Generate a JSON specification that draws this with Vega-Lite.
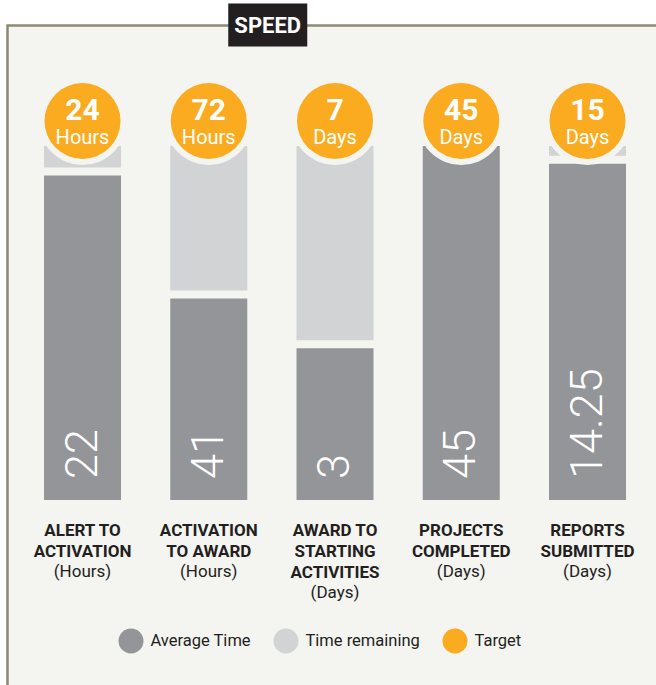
{
  "$schema": "https://vega.github.io/schema/vega-lite/v6.json",
  "width": 650,
  "height": 660,
  "autosize": {"type": "none"},
  "padding": {"left": 6, "top": 25, "right": 0, "bottom": 0},
  "background": "#ffffff",
  "data": {
    "values": [
      {"key": "alert", "name": ["ALERT TO", "ACTIVATION"], "unit": "Hours", "average": 22, "target": 24},
      {"key": "activation", "name": ["ACTIVATION", "TO AWARD"], "unit": "Hours", "average": 41, "target": 72},
      {"key": "award", "name": ["AWARD TO", "STARTING", "ACTIVITIES"], "unit": "Days", "average": 3, "target": 7},
      {"key": "projects", "name": ["PROJECTS", "COMPLETED"], "unit": "Days", "average": 45, "target": 45},
      {"key": "reports", "name": ["REPORTS", "SUBMITTED"], "unit": "Days", "average": 14.25, "target": 15}
    ]
  },
  "transform": [
    {"calculate": "datum.average / datum.target", "as": "share"},
    {"calculate": "'(' + datum.unit + ')'", "as": "unitLabel"}
  ],
  "encoding": {
    "x": {
      "field": "key",
      "type": "nominal",
      "sort": null,
      "scale": {
        "domain": ["alert", "activation", "award", "projects", "reports"],
        "paddingInner": 0.39,
        "paddingOuter": 0.2693,
        "align": 0.559
      },
      "axis": {"orient": "top", "title": null, "labels": false, "ticks": false, "grid": false, "domain": true, "domainColor": "#8b8a73", "domainWidth": 2.5}
    }
  },
  "layer": [
    {
      "mark": {"type": "bar", "cornerRadius": 0},
      "encoding": {
        "y": {"field": "share", "type": "quantitative", "scale": {"domain": [-0.5226, 1.3418], "nice": false, "zero": false}},
        "y2": {"datum": 0},
        "color": {
          "datum": "Average Time",
          "type": "nominal",
          "scale": {"domain": ["Average Time", "Time remaining", "Target"], "range": ["#939598", "#d1d3d4", "#faab1f"]},
          "legend": {
            "orient": "none",
            "legendX": 112.5,
            "legendY": 603.5,
            "direction": "horizontal",
            "title": null,
            "symbolType": "circle",
            "symbolSize": 625,
            "symbolStrokeWidth": 0,
            "symbolOpacity": 1,
            "labelFont": "Roboto",
            "labelFontSize": 16.5,
            "labelColor": "#231f20",
            "labelOffset": 7,
            "columnPadding": 22,
            "padding": 0
          }
        }
      }
    },
    {
      "transform": [{"filter": "datum.average < datum.target"}],
      "mark": {"type": "bar", "yOffset": -8},
      "encoding": {
        "y": {"field": "share", "type": "quantitative"},
        "y2": {"datum": 1},
        "color": {"datum": "Time remaining", "type": "nominal"}
      }
    },
    {
      "mark": {"type": "point", "filled": true, "opacity": 1, "color": "#f4f4f0", "size": 7744, "yOffset": -25, "shape": "circle"},
      "encoding": {"y": {"datum": 1}}
    },
    {
      "mark": {"type": "point", "filled": true, "opacity": 1, "size": 5776, "yOffset": -25, "shape": "circle"},
      "encoding": {
        "y": {"datum": 1},
        "color": {"datum": "Target", "type": "nominal"}
      }
    },
    {
      "mark": {"type": "text", "font": "Roboto", "fontWeight": "bold", "fontSize": 30, "fill": "#ffffff", "align": "center", "baseline": "alphabetic", "dy": -26},
      "encoding": {"y": {"datum": 1}, "text": {"field": "target", "type": "nominal"}}
    },
    {
      "mark": {"type": "text", "font": "Roboto", "fontSize": 20, "fill": "#ffffff", "align": "center", "baseline": "alphabetic", "dy": -2},
      "encoding": {"y": {"datum": 1}, "text": {"field": "unit", "type": "nominal"}}
    },
    {
      "mark": {"type": "text", "font": "Roboto", "fontWeight": 300, "fontSize": 45, "fill": "#ffffff", "angle": 270, "align": "left", "baseline": "middle", "dx": 21},
      "encoding": {"y": {"datum": 0}, "text": {"field": "average", "type": "nominal"}}
    },
    {
      "mark": {"type": "text", "font": "Roboto", "fontWeight": "bold", "fontSize": 17, "fill": "#231f20", "align": "center", "baseline": "alphabetic", "dy": 36, "lineHeight": 21},
      "encoding": {"y": {"datum": 0}, "text": {"field": "name", "type": "nominal"}}
    },
    {
      "transform": [{"filter": "length(datum.name) == 2"}],
      "mark": {"type": "text", "font": "Roboto", "fontSize": 17, "fill": "#231f20", "align": "center", "baseline": "alphabetic", "dy": 77},
      "encoding": {"y": {"datum": 0}, "text": {"field": "unitLabel", "type": "nominal"}}
    },
    {
      "transform": [{"filter": "length(datum.name) == 3"}],
      "mark": {"type": "text", "font": "Roboto", "fontSize": 17, "fill": "#231f20", "align": "center", "baseline": "alphabetic", "dy": 98},
      "encoding": {"y": {"datum": 0}, "text": {"field": "unitLabel", "type": "nominal"}}
    },
    {
      "data": {"values": [{"title": "SPEED"}]},
      "mark": {"type": "point", "filled": true, "opacity": 1, "color": "#231f20", "size": 6241, "shape": "M-1,-0.544L1,-0.544L1,0.544L-1,0.544Z"},
      "encoding": {"x": {"datum": "activation", "bandPosition": 1.266}, "y": {"datum": 1.3418}}
    },
    {
      "data": {"values": [{"title": "SPEED"}]},
      "mark": {"type": "text", "font": "Roboto", "fontWeight": "bold", "fontSize": 22, "fill": "#ffffff", "align": "center", "baseline": "middle", "dy": 1},
      "encoding": {"x": {"datum": "activation", "bandPosition": 1.266}, "y": {"datum": 1.3418}, "text": {"field": "title", "type": "nominal"}}
    }
  ],
  "config": {
    "view": {"fill": "#f4f4f0", "stroke": null},
    "axisY": {"orient": "left", "title": null, "labels": false, "ticks": false, "grid": false, "domain": true, "domainColor": "#8b8a73", "domainWidth": 2.5, "offset": -1},
    "axisX": {"grid": false}
  }
}
